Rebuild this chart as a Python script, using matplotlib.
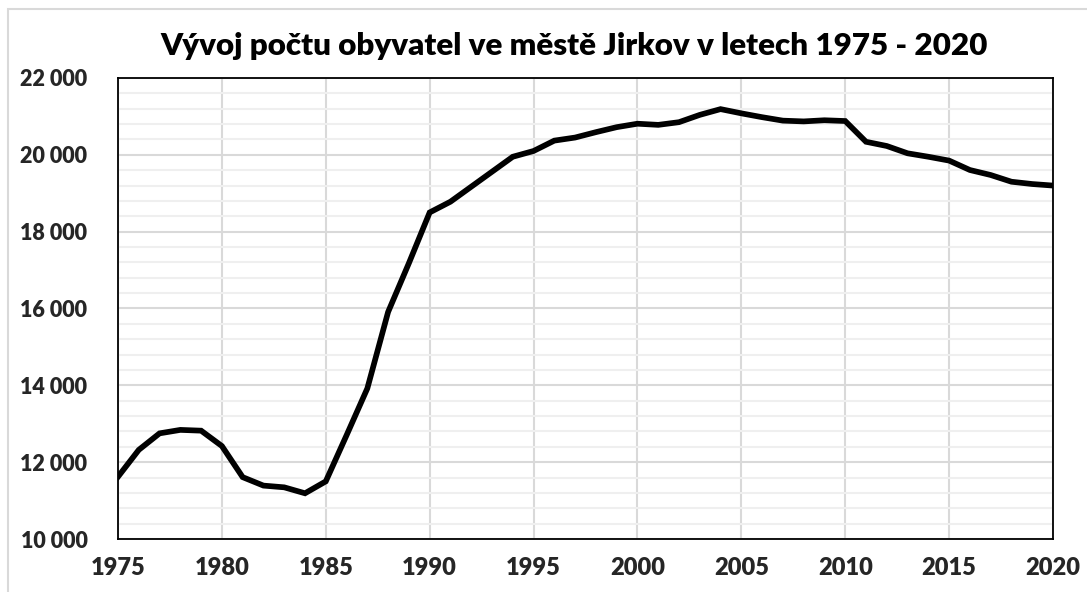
import matplotlib
matplotlib.use('Agg')
import matplotlib.pyplot as plt
from matplotlib.ticker import MultipleLocator, FuncFormatter
from matplotlib.patches import Rectangle

# population of Jirkov, 1975 - 2020
years = list(range(1975, 2021))
population = [
    11620, 12320, 12750, 12840, 12820, 12420, 11610, 11390, 11345, 11190,
    11500, 12700, 13920, 15910, 17180, 18500, 18780, 19170, 19560, 19950,
    20100, 20370, 20450, 20590, 20720, 20810, 20780, 20850, 21040, 21190,
    21080, 20980, 20890, 20870, 20900, 20880, 20340, 20230, 20040, 19950,
    19850, 19605, 19475, 19300, 19240, 19200,
]

title = 'Vývoj počtu obyvatel ve městě Jirkov v letech 1975 - 2020'
font = ['Lato', 'DejaVu Sans']


def thousands(v, pos):
    return f'{int(v):,}'.replace(',', ' ')


fig = plt.figure(figsize=(10.87, 5.92), dpi=100)
ax = fig.add_axes([118 / 1087, 1 - 539 / 592, 935 / 1087, 461 / 592])

# outer chart border (light gray)
fig.patches.append(Rectangle((8 / 1087, -0.1), 1.2, 1 - 9 / 592 + 0.1,
                             transform=fig.transFigure, fill=False,
                             edgecolor='#d9d9d9', linewidth=1.5))

ax.plot(years, population, color='black', linewidth=4.1,
        solid_joinstyle='miter', zorder=3)

ax.set_xlim(1975, 2020)
ax.set_ylim(10000, 22000)
ax.xaxis.set_major_locator(MultipleLocator(5))
ax.yaxis.set_major_locator(MultipleLocator(2000))
ax.yaxis.set_minor_locator(MultipleLocator(400))
ax.yaxis.set_major_formatter(FuncFormatter(thousands))

ax.grid(which='major', color='#d9d9d9', linewidth=1.5)
ax.grid(which='minor', axis='y', color='#efefef', linewidth=1.5)
ax.set_axisbelow(True)

ax.tick_params(which='both', length=0)
ax.tick_params(axis='x', pad=13)
ax.tick_params(axis='y', pad=22)
for lab in ax.get_xticklabels():
    lab.set_family(font)
    lab.set_fontweight('heavy')
    lab.set_fontsize(17)
    lab.set_color('#262626')
for lab in ax.get_yticklabels():
    lab.set_family(font)
    lab.set_fontweight('heavy')
    lab.set_fontsize(15.5)
    lab.set_color('#262626')

for s in ax.spines.values():
    s.set_linewidth(1.3)
    s.set_color('black')

fig.text(574 / 1087, 1 - 46 / 592, title, ha='center', va='center',
         family=font, fontweight='heavy', fontsize=22.6)

plt.savefig('out.png', dpi=100)
